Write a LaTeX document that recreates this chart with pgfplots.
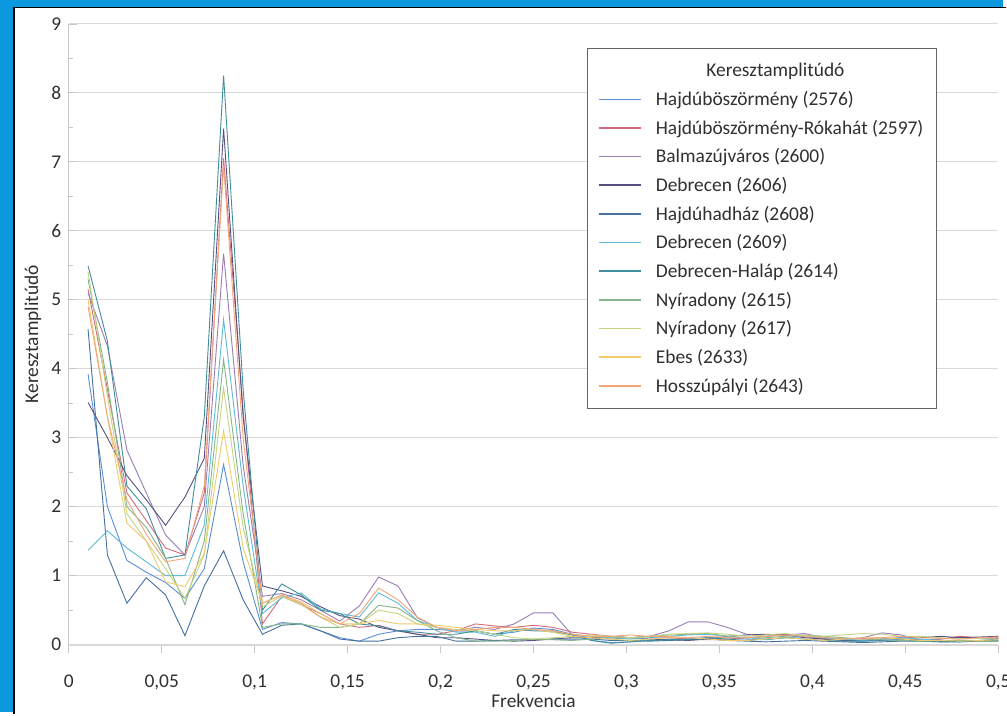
\documentclass[border=0pt]{standalone}
\usepackage{pgfplots}
\usepackage{pgfplotstable}
\pgfplotsset{compat=1.18}
\usepackage{fontspec}
\setmainfont{Carlito}
\definecolor{frameblue}{HTML}{0B98DE}
\definecolor{gridc}{HTML}{D9D9D9}
\definecolor{txt}{HTML}{303030}
\definecolor{c1}{HTML}{5A8ED6}
\definecolor{c2}{HTML}{D26B7E}
\definecolor{c3}{HTML}{9A7DB5}
\definecolor{c4}{HTML}{55507F}
\definecolor{c5}{HTML}{44709E}
\definecolor{c6}{HTML}{5DBAD6}
\definecolor{c7}{HTML}{3E8E9C}
\definecolor{c8}{HTML}{86B58A}
\definecolor{c9}{HTML}{C5D47E}
\definecolor{c10}{HTML}{EFCB6A}
\definecolor{c11}{HTML}{F2A77A}
\pgfplotstableread{
f s1 s2 s3 s4 s5 s6 s7 s8 s9 s10 s11
0.0104 3.92 5.15 5.10 3.51 4.57 1.37 5.49 5.30 5.40 5.00 4.90
0.0208 2.00 3.70 4.33 3.00 1.30 1.65 4.40 3.80 3.60 3.30 3.30
0.0313 1.22 2.20 2.82 2.45 0.60 1.40 2.30 2.00 1.90 1.76 2.10
0.0417 1.05 1.80 2.20 2.10 0.97 1.20 1.97 1.70 1.50 1.50 1.60
0.0521 0.90 1.40 1.59 1.73 0.72 1.00 1.25 1.25 1.10 0.91 1.20
0.0625 0.67 1.30 1.30 2.14 0.13 1.00 1.30 0.58 0.67 0.84 1.25
0.0729 1.10 2.20 2.00 2.70 0.85 1.73 3.30 1.50 1.30 1.32 2.30
0.0833 2.61 7.05 5.67 7.48 1.36 4.71 8.25 4.13 3.72 3.10 6.95
0.0938 1.20 3.40 2.60 3.30 0.65 2.30 3.70 1.90 1.70 1.40 3.00
0.1042 0.22 0.30 0.70 0.85 0.15 0.45 0.50 0.25 0.55 0.60 0.60
0.1146 0.32 0.70 0.74 0.78 0.28 0.68 0.88 0.30 0.70 0.72 0.72
0.1250 0.30 0.58 0.65 0.70 0.30 0.75 0.72 0.30 0.58 0.62 0.60
0.1354 0.20 0.45 0.50 0.55 0.20 0.52 0.50 0.25 0.40 0.45 0.40
0.1458 0.10 0.30 0.34 0.42 0.08 0.45 0.45 0.25 0.25 0.30 0.30
0.1563 0.05 0.25 0.56 0.37 0.05 0.40 0.30 0.30 0.30 0.30 0.45
0.1667 0.15 0.28 0.98 0.25 0.05 0.75 0.27 0.57 0.50 0.35 0.82
0.1771 0.20 0.20 0.85 0.20 0.10 0.60 0.20 0.53 0.45 0.30 0.65
0.1875 0.22 0.15 0.39 0.15 0.12 0.35 0.18 0.35 0.30 0.30 0.40
0.1979 0.22 0.15 0.25 0.10 0.12 0.25 0.15 0.20 0.25 0.28 0.25
0.2083 0.20 0.20 0.20 0.10 0.05 0.18 0.15 0.10 0.22 0.25 0.20
0.2188 0.20 0.30 0.25 0.08 0.05 0.18 0.20 0.05 0.20 0.22 0.22
0.2292 0.15 0.27 0.22 0.06 0.06 0.12 0.15 0.05 0.15 0.20 0.25
0.2396 0.18 0.25 0.30 0.05 0.07 0.20 0.22 0.06 0.10 0.20 0.25
0.2500 0.24 0.28 0.46 0.06 0.07 0.22 0.20 0.08 0.08 0.22 0.22
0.2604 0.22 0.25 0.46 0.08 0.08 0.18 0.20 0.07 0.10 0.18 0.20
0.2708 0.15 0.18 0.14 0.10 0.08 0.15 0.14 0.06 0.12 0.12 0.15
0.2813 0.06 0.15 0.10 0.10 0.08 0.12 0.06 0.08 0.14 0.10 0.12
0.2917 0.03 0.12 0.08 0.12 0.06 0.10 0.02 0.10 0.12 0.08 0.12
0.3021 0.04 0.10 0.10 0.10 0.06 0.08 0.04 0.10 0.10 0.06 0.14
0.3125 0.06 0.12 0.12 0.08 0.05 0.10 0.06 0.12 0.12 0.08 0.12
0.3229 0.08 0.10 0.20 0.07 0.06 0.12 0.07 0.14 0.15 0.10 0.12
0.3333 0.08 0.08 0.33 0.06 0.07 0.14 0.08 0.15 0.16 0.10 0.10
0.3438 0.10 0.07 0.33 0.08 0.08 0.15 0.10 0.16 0.17 0.08 0.12
0.3542 0.10 0.08 0.25 0.12 0.06 0.12 0.08 0.12 0.15 0.06 0.10
0.3646 0.08 0.10 0.15 0.14 0.05 0.10 0.06 0.10 0.12 0.06 0.10
0.3750 0.07 0.12 0.12 0.15 0.04 0.08 0.08 0.10 0.14 0.08 0.12
0.3854 0.10 0.15 0.14 0.14 0.05 0.10 0.10 0.12 0.16 0.10 0.14
0.3958 0.12 0.12 0.16 0.10 0.06 0.12 0.08 0.14 0.13 0.08 0.12
0.4063 0.09 0.08 0.10 0.08 0.05 0.10 0.06 0.12 0.12 0.06 0.10
0.4167 0.06 0.07 0.08 0.06 0.04 0.08 0.05 0.10 0.14 0.08 0.09
0.4271 0.05 0.09 0.10 0.06 0.03 0.06 0.05 0.08 0.16 0.10 0.08
0.4375 0.06 0.10 0.17 0.08 0.04 0.08 0.06 0.07 0.15 0.10 0.10
0.4479 0.08 0.08 0.14 0.10 0.05 0.10 0.07 0.06 0.12 0.08 0.12
0.4583 0.07 0.06 0.06 0.10 0.05 0.08 0.05 0.05 0.12 0.06 0.10
0.4688 0.05 0.08 0.08 0.12 0.04 0.06 0.04 0.06 0.10 0.06 0.09
0.4792 0.04 0.12 0.10 0.10 0.04 0.05 0.05 0.06 0.08 0.05 0.08
0.4896 0.06 0.10 0.09 0.11 0.05 0.06 0.06 0.05 0.09 0.06 0.10
0.5000 0.08 0.09 0.10 0.12 0.05 0.07 0.06 0.05 0.10 0.07 0.11
}\data
\begin{document}
\begin{tikzpicture}[x=1pt,y=1pt]
\fill[frameblue] (0,0) rectangle (1007,715);
\fill[white] (14,0) rectangle (1007,707);
\draw[black,line width=1.5pt] (14,-2) -- (14,707.5) -- (1010,707.5);
\useasboundingbox (0,0) rectangle (1007,715);
\begin{axis}[
  at={(69pt,68pt)}, anchor=south west,
  scale only axis, width=933pt, height=623pt,
  xmin=0, xmax=0.5, ymin=0, ymax=9,
  xtick={0,0.05,...,0.51}, ytick={0,1,...,9},
  minor ytick={0.5,1.5,...,8.5},
  axis x line*=bottom, axis y line*=left,
  x axis line style={draw=gridc, line width=2.2pt, -},
  y axis line style={draw=gridc!80!gray, line width=0.8pt, -},
  ymajorgrids, grid style={draw=gridc, line width=1pt},
  minor y grid style={draw=none},
  tick style={draw=gridc!80!gray, line width=0.8pt},
  major tick length=8pt,
  minor tick length=4pt,
  xtick align=outside,
  ytick align=inside,
  tick label style={font=\fontsize{19.5}{23}\selectfont, text=txt},
  /pgf/number format/assume math mode=true,
  /pgf/number format/use comma,
  xticklabel style={/pgf/number format/fixed, /pgf/number format/precision=2, yshift=-19pt},
  yticklabel style={xshift=-4pt},
  xlabel={Frekvencia}, ylabel={Keresztamplitúdó},
  label style={font=\fontsize{19.5}{23}\selectfont, text=txt},
  xlabel style={at={(axis description cs:0.5,-0.0905)}, anchor=center},
  ylabel style={at={(axis description cs:-0.0386,0.5)}, anchor=center},
  legend style={at={(0.557,0.961)}, anchor=north west, draw=gray!80!black, line width=0.8pt,
    font=\fontsize{19.5}{23}\selectfont, text=txt, row sep=9pt,
    inner xsep=11pt, inner ysep=13pt, cells={anchor=west}},
  legend image code/.code={\draw[#1, line width=1.5pt] (0pt,0pt) -- (43pt,0pt); \path (55pt,0pt);},
  every axis plot/.append style={line width=0.9pt},
]
\addlegendimage{empty legend}
\addlegendentry{\makebox[240pt][c]{Keresztamplitúdó}}
\addplot[c1] table[x=f,y=s1]{\data}; \addlegendentry{Hajdúböszörmény (2576)}
\addplot[c2] table[x=f,y=s2]{\data}; \addlegendentry{Hajdúböszörmény-Rókahát (2597)}
\addplot[c3] table[x=f,y=s3]{\data}; \addlegendentry{Balmazújváros (2600)}
\addplot[c4] table[x=f,y=s4]{\data}; \addlegendentry{Debrecen (2606)}
\addplot[c5] table[x=f,y=s5]{\data}; \addlegendentry{Hajdúhadház (2608)}
\addplot[c6] table[x=f,y=s6]{\data}; \addlegendentry{Debrecen (2609)}
\addplot[c7] table[x=f,y=s7]{\data}; \addlegendentry{Debrecen-Haláp (2614)}
\addplot[c8] table[x=f,y=s8]{\data}; \addlegendentry{Nyíradony (2615)}
\addplot[c9] table[x=f,y=s9]{\data}; \addlegendentry{Nyíradony (2617)}
\addplot[c10] table[x=f,y=s10]{\data}; \addlegendentry{Ebes (2633)}
\addplot[c11] table[x=f,y=s11]{\data}; \addlegendentry{Hosszúpályi (2643)}
\end{axis}
\end{tikzpicture}
\end{document}
